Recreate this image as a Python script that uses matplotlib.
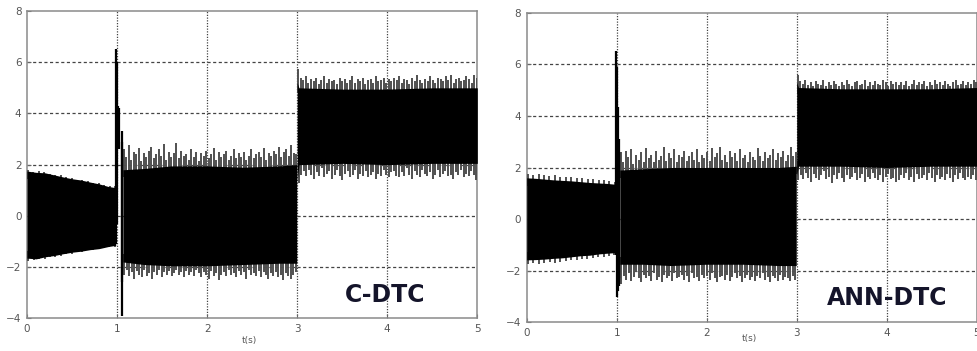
import numpy as np
import matplotlib
matplotlib.use("Agg")
import matplotlib.pyplot as plt

# ---------------- data ----------------
x_ticks = [0, 1, 2, 3, 4, 5]
y_ticks = [-4, -2, 0, 2, 4, 6, 8]
x_label = "t(s)"
titles = ["C-DTC", "ANN-DTC"]

# --- C-DTC ---
c_A_t = [0.0, 0.1, 0.2, 0.3, 0.4, 0.5, 0.6, 0.7, 0.8, 0.9, 0.985]
c_A_hi = [1.75, 1.7, 1.68, 1.6, 1.52, 1.45, 1.4, 1.32, 1.25, 1.15, 1.1]
c_A_lo = [-1.65, -1.68, -1.6, -1.55, -1.48, -1.42, -1.38, -1.32, -1.28, -1.2, -1.15]
c_A_hi_sp = [1.8, 1.72, 1.75, 1.7, 1.65, 1.6, 1.58, 1.5, 1.48, 1.42, 1.4, 1.35, 1.3, 1.28, 1.22, 1.18, 1.15]
c_A_lo_sp = [-1.75, -1.72, -1.7, -1.68, -1.62, -1.6, -1.55, -1.5, -1.48, -1.42, -1.4, -1.35, -1.32, -1.3, -1.25, -1.22, -1.2]

c_tr_t = [0.99, 1.0, 1.01, 1.02, 1.05, 1.06]
c_tr_hi = [6.5, 6.0, 4.3, 4.2, 3.3, 2.9]
c_tr_lo = [-1.1, -0.3, 2.6, 2.6, -3.9, -2.6]

c_B_t = [1.065, 1.3, 1.6, 2.0, 2.4, 2.8, 2.995]
c_B_hi = [1.8, 1.85, 1.95, 1.95, 1.9, 1.95, 2.0]
c_B_lo = [-1.8, -1.9, -1.95, -1.95, -1.9, -1.85, -1.85]
c_B_hi_sp = [2.6, 2.3, 2.75, 2.2, 2.5, 2.4, 2.65, 2.15, 2.45, 2.3,
             2.55, 2.7, 2.25, 2.4, 2.6, 2.35, 2.8, 2.2, 2.5, 2.3,
             2.45, 2.85, 2.25, 2.55, 2.35, 2.4, 2.2, 2.6, 2.3, 2.5,
             2.15, 2.45, 2.35, 2.55, 2.25, 2.4, 2.65, 2.2, 2.5, 2.3,
             2.4, 2.55, 2.2, 2.35, 2.6, 2.25, 2.45, 2.3, 2.5, 2.2,
             2.35, 2.6, 2.25, 2.4, 2.5, 2.3, 2.65, 2.2, 2.45, 2.35,
             2.55, 2.4, 2.7, 2.3, 2.5, 2.6, 2.35, 2.75, 2.45, 2.4]
c_B_lo_sp = [-2.3, -2.1, -2.35, -2.2, -2.45, -2.15, -2.3, -2.4, -2.1, -2.35,
             -2.25, -2.45, -2.2, -2.3, -2.1, -2.4, -2.2, -2.3, -2.15, -2.35,
             -2.25, -2.1, -2.3, -2.2, -2.4, -2.15, -2.3, -2.2, -2.35, -2.1,
             -2.25, -2.4, -2.2, -2.3, -2.45, -2.15, -2.35, -2.25, -2.5, -2.3,
             -2.2, -2.35, -2.1, -2.3, -2.25, -2.4, -2.15, -2.3, -2.2, -2.45,
             -2.1, -2.3, -2.25, -2.35, -2.15, -2.4, -2.2, -2.3, -2.45, -2.25,
             -2.35, -2.2, -2.4, -2.3, -2.5, -2.25, -2.35, -2.45, -2.3, -2.2]

c_C_t = [3.0, 3.02, 3.5, 4.0, 4.5, 5.0]
c_C_hi = [5.2, 5.0, 4.95, 4.95, 5.0, 5.0]
c_C_lo = [1.4, 2.0, 2.05, 2.0, 2.05, 2.05]
c_C_hi_sp = [5.75, 5.4, 5.3, 5.45, 5.2, 5.35, 5.25, 5.4, 5.15, 5.3,
             5.45, 5.2, 5.35, 5.25, 5.3, 5.15, 5.4, 5.25, 5.35, 5.2,
             5.3, 5.45, 5.2, 5.35, 5.25, 5.4, 5.15, 5.3, 5.35, 5.2,
             5.45, 5.25, 5.3, 5.4, 5.2, 5.35, 5.25, 5.4, 5.3, 5.45,
             5.2, 5.35, 5.3, 5.15, 5.4, 5.25, 5.5, 5.3, 5.2, 5.35,
             5.25, 5.45, 5.3, 5.2, 5.4, 5.35, 5.25, 5.45, 5.3, 5.5,
             5.2, 5.35, 5.4, 5.25, 5.3, 5.45, 5.35, 5.2, 5.5, 5.4]
c_C_lo_sp = [1.3, 1.6, 1.75, 1.55, 1.8, 1.6, 1.45, 1.7, 1.55, 1.85,
             1.5, 1.65, 1.75, 1.45, 1.6, 1.8, 1.55, 1.4, 1.65, 1.75,
             1.5, 1.6, 1.8, 1.45, 1.65, 1.55, 1.75, 1.5, 1.6, 1.7,
             1.45, 1.65, 1.55, 1.8, 1.6, 1.5, 1.7, 1.75, 1.55, 1.5,
             1.7, 1.55, 1.85, 1.6, 1.45, 1.75, 1.6, 1.5, 1.8, 1.65,
             1.55, 1.7, 1.45, 1.6, 1.8, 1.5, 1.65, 1.75, 1.55, 1.6,
             1.45, 1.7, 1.6, 1.8, 1.5, 1.65, 1.55, 1.75, 1.6, 1.4]

# --- ANN-DTC ---
a_A_t = [0.0, 0.1, 0.2, 0.3, 0.4, 0.5, 0.6, 0.7, 0.8, 0.9, 0.985]
a_A_hi = [1.6, 1.58, 1.55, 1.52, 1.5, 1.48, 1.45, 1.42, 1.4, 1.38, 1.35]
a_A_lo = [-1.58, -1.57, -1.55, -1.52, -1.5, -1.46, -1.42, -1.4, -1.35, -1.32, -1.3]
a_A_hi_sp = [1.75, 1.72, 1.74, 1.7, 1.68, 1.7, 1.65, 1.62, 1.64, 1.6, 1.58, 1.55, 1.56, 1.52, 1.5, 1.48, 1.45]
a_A_lo_sp = [-1.75, -1.72, -1.74, -1.7, -1.68, -1.7, -1.65, -1.62, -1.6, -1.58, -1.55, -1.55, -1.5, -1.48, -1.46, -1.44, -1.4]

a_tr_t = [0.995, 1.0, 1.01, 1.02, 1.03]
a_tr_hi = [6.5, 5.9, 4.35, 3.1, 2.6]
a_tr_lo = [-1.4, -3.0, -2.8, -2.6, -2.3]

a_B_t = [1.035, 1.3, 1.6, 2.0, 2.4, 2.8, 2.995]
a_B_hi = [1.9, 1.95, 2.0, 2.0, 2.0, 2.0, 2.05]
a_B_lo = [-1.75, -1.75, -1.8, -1.75, -1.75, -1.8, -1.8]
a_B_hi_sp = [2.6, 2.2, 2.65, 2.4, 2.7, 2.15, 2.5, 2.3, 2.6, 2.2,
             2.75, 2.35, 2.5, 2.2, 2.65, 2.3, 2.45, 2.8, 2.25, 2.55,
             2.35, 2.7, 2.2, 2.5, 2.4, 2.65, 2.25, 2.45, 2.6, 2.3,
             2.7, 2.2, 2.5, 2.35, 2.6, 2.25, 2.75, 2.4, 2.55, 2.8,
             2.3, 2.5, 2.2, 2.65, 2.4, 2.55, 2.25, 2.7, 2.35, 2.5,
             2.2, 2.6, 2.4, 2.3, 2.75, 2.45, 2.25, 2.6, 2.35, 2.5,
             2.7, 2.3, 2.55, 2.4, 2.65, 2.25, 2.5, 2.8, 2.45, 2.6]
a_B_lo_sp = [-2.5, -2.2, -2.35, -2.1, -2.4, -2.25, -2.05, -2.3, -2.45, -2.15,
             -2.3, -2.2, -2.4, -2.1, -2.35, -2.25, -2.45, -2.15, -2.3, -2.2,
             -2.4, -2.1, -2.3, -2.25, -2.15, -2.35, -2.2, -2.45, -2.1, -2.3,
             -2.25, -2.4, -2.15, -2.3, -2.2, -2.35, -2.1, -2.3, -2.45, -2.25,
             -2.2, -2.35, -2.15, -2.4, -2.25, -2.1, -2.3, -2.2, -2.45, -2.3,
             -2.15, -2.35, -2.25, -2.4, -2.2, -2.3, -2.1, -2.35, -2.25, -2.45,
             -2.2, -2.3, -2.4, -2.15, -2.35, -2.25, -2.3, -2.4, -2.2, -2.35]

a_C_t = [3.0, 3.02, 3.5, 4.0, 4.5, 5.0]
a_C_hi = [5.3, 5.1, 5.05, 5.05, 5.05, 5.1]
a_C_lo = [1.7, 2.05, 2.05, 2.0, 2.05, 2.05]
a_C_hi_sp = [5.6, 5.35, 5.25, 5.4, 5.2, 5.3, 5.15, 5.35, 5.25, 5.2,
             5.4, 5.15, 5.3, 5.2, 5.35, 5.25, 5.15, 5.3, 5.2, 5.4,
             5.25, 5.15, 5.3, 5.35, 5.2, 5.25, 5.4, 5.15, 5.3, 5.2,
             5.35, 5.25, 5.2, 5.4, 5.3, 5.15, 5.35, 5.25, 5.3, 5.2,
             5.3, 5.2, 5.35, 5.15, 5.25, 5.4, 5.2, 5.3, 5.25, 5.35,
             5.15, 5.3, 5.2, 5.4, 5.25, 5.3, 5.2, 5.35, 5.25, 5.15,
             5.3, 5.4, 5.2, 5.25, 5.35, 5.2, 5.3, 5.25, 5.4, 5.3]
a_C_lo_sp = [1.5, 1.7, 1.55, 1.8, 1.6, 1.45, 1.75, 1.6, 1.5, 1.7,
             1.85, 1.55, 1.65, 1.4, 1.7, 1.55, 1.8, 1.6, 1.45, 1.7,
             1.55, 1.65, 1.8, 1.5, 1.6, 1.75, 1.45, 1.65, 1.55, 1.8,
             1.6, 1.5, 1.7, 1.45, 1.65, 1.75, 1.55, 1.6, 1.45, 1.5,
             1.7, 1.6, 1.8, 1.5, 1.65, 1.45, 1.75, 1.55, 1.6, 1.7,
             1.5, 1.8, 1.6, 1.45, 1.7, 1.55, 1.65, 1.5, 1.75, 1.6,
             1.45, 1.7, 1.55, 1.8, 1.6, 1.5, 1.65, 1.55, 1.7, 1.5]

panels = [
    dict(segs=[(c_A_t, c_A_hi, c_A_lo, c_A_hi_sp, c_A_lo_sp),
               (c_B_t, c_B_hi, c_B_lo, c_B_hi_sp, c_B_lo_sp),
               (c_C_t, c_C_hi, c_C_lo, c_C_hi_sp, c_C_lo_sp)],
         tr=(c_tr_t, c_tr_hi, c_tr_lo), title=titles[0]),
    dict(segs=[(a_A_t, a_A_hi, a_A_lo, a_A_hi_sp, a_A_lo_sp),
               (a_B_t, a_B_hi, a_B_lo, a_B_hi_sp, a_B_lo_sp),
               (a_C_t, a_C_hi, a_C_lo, a_C_hi_sp, a_C_lo_sp)],
         tr=(a_tr_t, a_tr_hi, a_tr_lo), title=titles[1]),
]

# ---------------- layout ----------------
fig = plt.figure(figsize=(9.78, 3.51), dpi=100)
fig.patch.set_facecolor("white")
axes_rects = [
    [27 / 978, 1 - 318.3 / 351, (477.3 - 27) / 978, (318.3 - 11) / 351],
    [526.7 / 978, 1 - 322.3 / 351, (976.7 - 526.7) / 978, (322.3 - 12.7) / 351],
]
text_pos = [(385 / 978, 1 - 295 / 351), (887 / 978, 1 - 298 / 351)]
xlabel_pos = [(249 / 978, 1 - 340 / 351), (749 / 978, 1 - 338 / 351)]

for p, rect, tp, xp in zip(panels, axes_rects, text_pos, xlabel_pos):
    ax = fig.add_axes(rect)
    ax.set_xlim(0, 5)
    ax.set_ylim(-4, 8)
    ax.set_xticks(x_ticks)
    ax.set_yticks(y_ticks)
    ax.tick_params(direction="in", length=3, width=0.8, colors="#666666",
                   labelsize=7.5, labelcolor="#555555", pad=4)
    for s in ax.spines.values():
        s.set_color("#8a8a8a")
        s.set_linewidth(1.1)
    # grid
    for yv in y_ticks[1:-1]:
        ax.axhline(yv, color="#444444", lw=0.9, ls=(0, (2.5, 2.0)), zorder=1)
    for xv in x_ticks[1:-1]:
        ax.axvline(xv, color="#444444", lw=0.9, ls=(0, (1.0, 1.2)), zorder=1)

    # signal
    for (t, hi, lo, hsp, lsp) in p["segs"]:
        t = np.asarray(t)
        ax.fill_between(t, lo, hi, color="black", lw=0, zorder=4)
        ts_h = np.linspace(t[0] + 0.01, t[-1] - 0.005, len(hsp))
        ax.vlines(ts_h, np.interp(ts_h, t, hi) - 0.3, hsp, color="#505050", lw=1.4, zorder=3)
        ts_l = np.linspace(t[0] + 0.015, t[-1] - 0.01, len(lsp))
        ax.vlines(ts_l, lsp, np.interp(ts_l, t, lo) + 0.3, color="#505050", lw=1.4, zorder=3)
    tt, th, tl = p["tr"]
    ax.vlines(tt, tl, th, color="black", lw=1.6, zorder=5)

    fig.text(tp[0], tp[1], p["title"], ha="center", va="center", fontsize=17,
             fontweight="bold", color="#14142a", family="DejaVu Sans")
    fig.text(xp[0], xp[1], x_label, ha="center", va="center", fontsize=6.5,
             color="#555555")

fig.savefig("out.png", dpi=100, facecolor="white")
